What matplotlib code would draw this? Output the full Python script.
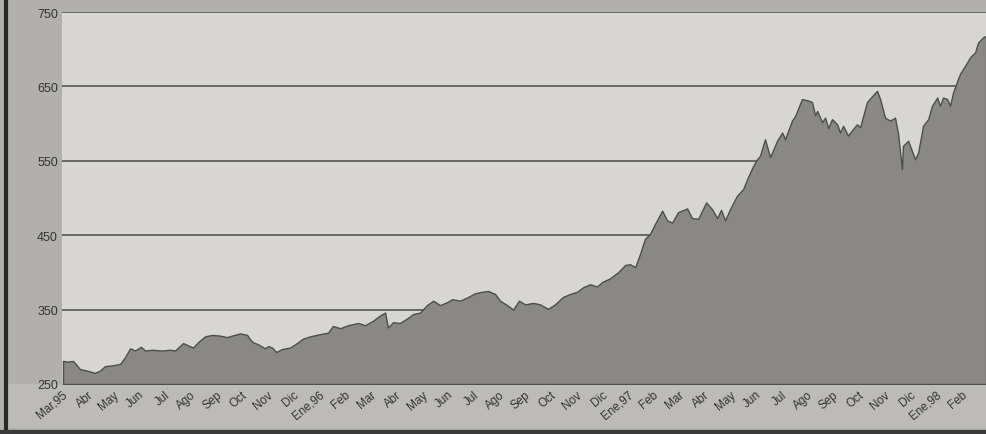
import numpy as np
import matplotlib.pyplot as plt
import matplotlib.transforms as mtransforms
from matplotlib.lines import Line2D
from matplotlib.patches import Rectangle

plt.rcParams['font.family'] = ['Liberation Sans', 'DejaVu Sans']

# months since Mar 1995 (fractional) and index level
t_months = [0.04, 0.23, 0.43, 0.70, 0.97, 1.28, 1.48, 1.67, 1.95, 2.26, 2.45, 2.65, 2.84, 3.07,
            3.23, 3.50, 3.89, 4.20, 4.40, 4.71, 4.90, 5.10, 5.29, 5.56, 5.84, 6.15, 6.42, 6.61,
            6.93, 7.20, 7.32, 7.43, 7.59, 7.90, 8.02, 8.17, 8.33, 8.56, 8.87, 9.14, 9.38, 9.65,
            10.04, 10.35, 10.54, 10.82, 11.13, 11.52, 11.79, 12.10, 12.37, 12.57, 12.68, 12.88,
            13.15, 13.42, 13.66, 13.93, 14.20, 14.44, 14.71, 14.98, 15.18, 15.49, 15.80, 16.07,
            16.34, 16.58, 16.85, 17.04, 17.32, 17.55, 17.78, 18.02, 18.33, 18.60, 18.91, 19.18,
            19.49, 19.77, 20.04, 20.27, 20.54, 20.82, 21.01, 21.32, 21.63, 21.91, 22.10, 22.30,
            22.49, 22.68, 22.88, 23.07, 23.35, 23.54, 23.74, 23.97, 24.32, 24.51, 24.75, 25.06,
            25.29, 25.49, 25.64, 25.80, 25.99, 26.26, 26.50, 26.69, 26.89, 27.04, 27.16, 27.35,
            27.55, 27.82, 28.02, 28.13, 28.40, 28.52, 28.79, 29.03, 29.18, 29.30, 29.38, 29.57,
            29.69, 29.81, 29.96, 30.16, 30.27, 30.39, 30.58, 30.78, 30.93, 31.05, 31.32, 31.52,
            31.71, 31.83, 32.02, 32.22, 32.41, 32.53, 32.68, 32.72, 32.92, 33.19, 33.31, 33.50,
            33.70, 33.85, 34.05, 34.16, 34.28, 34.44, 34.55, 34.67, 34.86, 34.94, 35.14, 35.33,
            35.53, 35.64, 35.84, 35.95]
level = [281, 280, 281, 270, 268, 265, 268, 274, 275, 277, 286, 298, 295, 300,
         295, 296, 295, 296, 295, 305, 302, 299, 306, 314, 316, 315, 313, 315,
         318, 316, 310, 306, 304, 298, 301, 299, 293, 297, 299, 305, 311, 314,
         317, 319, 328, 325, 329, 332, 329, 335, 342, 346, 326, 333,
         332, 338, 344, 346, 356, 362, 356, 360, 364, 362, 367, 372,
         374, 375, 371, 362, 356, 350, 362, 357, 359, 357, 351, 357,
         367, 371, 374, 380, 384, 381, 387, 392, 400, 410, 411, 407,
         425, 445, 452, 465, 483, 470, 467, 481, 486, 473, 472, 494,
         485, 473, 484, 470, 485, 503, 512, 528, 543, 552, 557, 579,
         555, 577, 588, 579, 604, 610, 633, 631, 629, 611, 617, 602,
         608, 594, 606, 599, 588, 597, 584, 593, 599, 595, 629, 637,
         644, 633, 608, 604, 608, 586, 539, 570, 577, 552, 561, 597,
         606, 624, 635, 624, 635, 633, 624, 642, 660, 667, 678, 689,
         696, 709, 716, 718]

month_labels = ['Mar,95', 'Abr', 'May', 'Jun', 'Jul', 'Ago', 'Sep', 'Oct', 'Nov', 'Dic',
                'Ene,96', 'Feb', 'Mar', 'Abr', 'May', 'Jun', 'Jul', 'Ago', 'Sep', 'Oct', 'Nov', 'Dic',
                'Ene,97', 'Feb', 'Mar', 'Abr', 'May', 'Jun', 'Jul', 'Ago', 'Sep', 'Oct', 'Nov', 'Dic',
                'Ene,98', 'Feb']
y_ticks = [250, 350, 450, 550, 650, 750]

fig = plt.figure(figsize=(9.86, 4.35), dpi=100, facecolor='#b2b0ad')
ax = fig.add_axes([62 / 986, 50 / 435, 924 / 986, 372 / 435])
ax.set_facecolor('#d8d6d3')

# lighter band under the axis
fig.add_artist(Rectangle((7 / 986, 6 / 435), 1, 44 / 435, transform=fig.transFigure,
                         facecolor='#bdbbb8', edgecolor='none', zorder=0))
# scan borders
fig.add_artist(Line2D([6 / 986, 6 / 986], [0, 1], color='#2a2a2a', lw=3))
fig.add_artist(Line2D([0, 1], [2 / 435, 2 / 435], color='#3a3a3a', lw=3))

for y in y_ticks[1:]:
    ax.axhline(y, color='#4a4a4a', lw=1.1, zorder=1)

ax.fill_between(t_months, level, 250, facecolor='#8a8885', edgecolor='#4e4e4e',
                lw=1.0, zorder=2)

ax.set_xlim(0, 35.95)
ax.set_ylim(250, 750)
ax.set_yticks(y_ticks)
ax.set_yticklabels([str(v) for v in y_ticks], fontsize=9, color='#333333')
ax.set_xticks(range(len(month_labels)))
ax.set_xticklabels(month_labels, rotation=40, ha='right', va='top',
                   rotation_mode='anchor', fontsize=8.5, color='#333333')
offset = mtransforms.ScaledTranslation(9 / 100, 0, fig.dpi_scale_trans)
for lbl in ax.get_xticklabels():
    lbl.set_transform(lbl.get_transform() + offset)
ax.tick_params(length=0, pad=3)
for s in ax.spines.values():
    s.set_visible(False)

fig.savefig('out.png', dpi=100, facecolor=fig.get_facecolor())
